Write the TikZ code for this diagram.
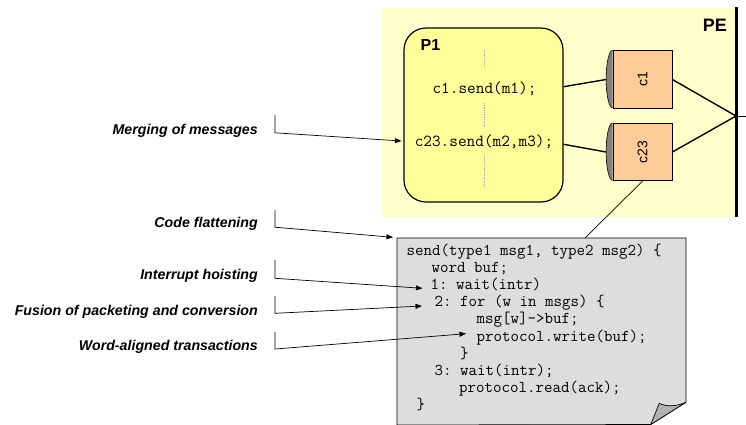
\documentclass[tikz,border=0pt]{standalone}
\usepackage{fontspec}
\setmainfont{Liberation Sans}
\usetikzlibrary{positioning,arrows.meta}

\definecolor{peyellow}{HTML}{FFFFCC}
\definecolor{procyellow}{HTML}{FFFF99}
\definecolor{chanorange}{HTML}{FFCC99}
\definecolor{codegray}{HTML}{DDDDDD}
\definecolor{curlgray}{HTML}{B2B2B2}
\definecolor{capgray}{HTML}{808080}

\begin{document}
\begin{tikzpicture}[
  x=1pt, y=-1pt,
  lbl/.style={font=\fontsize{14.2}{16}\selectfont\bfseries\itshape,
              anchor=base east, inner sep=0pt},
  codeln/.style={font=\fontsize{16.5}{17}\selectfont\ttfamily\frenchspacing,
                 anchor=base west, inner sep=0pt},
  sendtxt/.style={font=\fontsize{16.8}{17}\selectfont\ttfamily, inner sep=0pt},
  chan/.style={draw, fill=chanorange, minimum width=59pt, minimum height=57.5pt,
               inner sep=0pt, line width=0.8pt, font=\fontsize{14}{16}\selectfont},
  title/.style={font=\fontsize{#1}{20}\selectfont\bfseries, inner sep=0pt},
  wire/.style={line width=1.4pt},
  dots/.style={gray!70, densely dotted, line width=0.8pt},
  ar/.style={-{Triangle[length=6.5pt,width=5pt]}, line width=0.7pt}
]
\useasboundingbox (0,0) rectangle (746,424);

% processing element
\node[fill=peyellow, minimum width=354pt, minimum height=209pt, inner sep=0pt,
      anchor=north west] (pe) at (382,8) {};
\draw[line width=3.2pt] ([yshift=1pt]pe.north east) -- (pe.south east);
\node[title=18, anchor=base east] (pelbl) at (727,31) {PE};
\coordinate (jn) at (736,116);
\coordinate (out) at (746,116);

% process P1
\node[draw, fill=procyellow, rounded corners=22pt, minimum width=159pt,
      minimum height=174pt, line width=1.2pt] (p1) at (483.5,115) {};
\node[title=16, anchor=base west] (p1lbl) at (420.5,50) {P1};
\node[sendtxt] (snd1) at (484.5,89) {c1.send(m1);};
\node[sendtxt] (snd23) at (484,142) {c23.send(m2,m3);};
\draw[dots] (snd1 |- 0,50) -- (snd1 |- 0,68);
\draw[dots] (snd1 |- 0,103) -- (snd1 |- 0,128);
\draw[dots] (snd1 |- 0,155) -- (snd1 |- 0,187);

% channels
\node[chan] (c1) at (642.5,79.5) {\rotatebox{90}{c1}};
\node[chan] (c23) at (642.5,152) {\rotatebox{90}{c23}};
\draw[fill=capgray, line width=0.6pt] (c1.north west)
  arc[start angle=90, end angle=270, x radius=6.5pt, y radius=28.75pt];
\draw[fill=capgray, line width=0.6pt] (c23.north west)
  arc[start angle=90, end angle=270, x radius=6.5pt, y radius=28.75pt];

\draw[wire] ([yshift=28.3pt]p1.east) -- ([xshift=-6.5pt]c1.west);
\draw[wire] ([yshift=-29.3pt]p1.east) -- ([xshift=-6.5pt]c23.west);
\draw[wire] (c1.east) -- (jn);
\draw[wire] (c23.east) -- (jn);
\draw[line width=0.8pt] (jn) -- (out);

% generated code
\coordinate (dnw) at (397,238);
\coordinate (dne) at (686,238);
\coordinate (dfold) at (686,402.3);
\coordinate (dtip) at (650.7,424.5);
\coordinate (dpin) at (585,238);
\draw[fill=codegray, line width=0.7pt] (dnw) -- (dne) -- (dfold) -- (dtip)
  -- (397,425) -- cycle;
\draw[fill=curlgray, line width=0.7pt] (dtip) -- (659.3,403.3)
  .. controls (668,407.5) and (677,406) .. (dfold) -- cycle;
\draw[line width=0.7pt] (c23.south) -- (dpin);

\node[codeln] (ln1) at (406.5,255.3) {send(type1 msg1, type2 msg2) \{};
\node[codeln] (ln2) at (431.5,272.5) {word buf;};
\node[codeln] (ln3) at (430.5,289.5) {1: wait(intr)};
\node[codeln] (ln4) at (434.5,306.7) {2: for (w in msgs) \{};
\node[codeln] (ln5) at (476.5,323.8) {msg[w]->buf;};
\node[codeln] (ln6) at (476.5,341) {protocol.write(buf);};
\node[codeln] (ln7) at (460,358.2) {\}};
\node[codeln] (ln8) at (434.5,375.4) {3: wait(intr);};
\node[codeln] (ln9) at (459,392.6) {protocol.read(ack);};
\node[codeln] (ln10) at (416.5,409.8) {\}};

% optimisations
\node[lbl] (mrg) at (258,134.3) {Merging of messages};
\node[lbl] (flat) at (258,227.7) {Code flattening};
\node[lbl] (hoist) at (258,279.3) {Interrupt hoisting};
\node[lbl] (fuse) at (258,315) {Fusion of packeting and conversion};
\node[lbl] (word) at (258,350.7) {Word-aligned transactions};

\draw[ar] ([xshift=17pt,yshift=19.3pt]mrg.base east) -- ([xshift=17pt,yshift=1.5pt]mrg.base east)
  -- ([xshift=-2pt,yshift=-26pt]p1.west);
\draw[ar] ([xshift=17pt,yshift=17.7pt]flat.base east) -- ([xshift=17pt,yshift=0.5pt]flat.base east)
  -- ([xshift=-4pt,yshift=0.7pt]dnw);
\draw[ar] ([xshift=17pt,yshift=19.3pt]hoist.base east) -- ([xshift=17pt,yshift=1pt]hoist.base east)
  -- ([xshift=-8pt,yshift=1.2pt]ln3.base west);
\draw[ar] ([xshift=17pt,yshift=19pt]fuse.base east) -- ([xshift=17pt,yshift=1.7pt]fuse.base east)
  -- ([xshift=-12.5pt,yshift=0.7pt]ln4.base west);
\draw[ar] ([xshift=17pt,yshift=18.7pt]word.base east) -- ([xshift=17pt,yshift=1.7pt]word.base east)
  -- ([xshift=-10.5pt,yshift=7.3pt]ln6.base west);
\end{tikzpicture}
\end{document}
